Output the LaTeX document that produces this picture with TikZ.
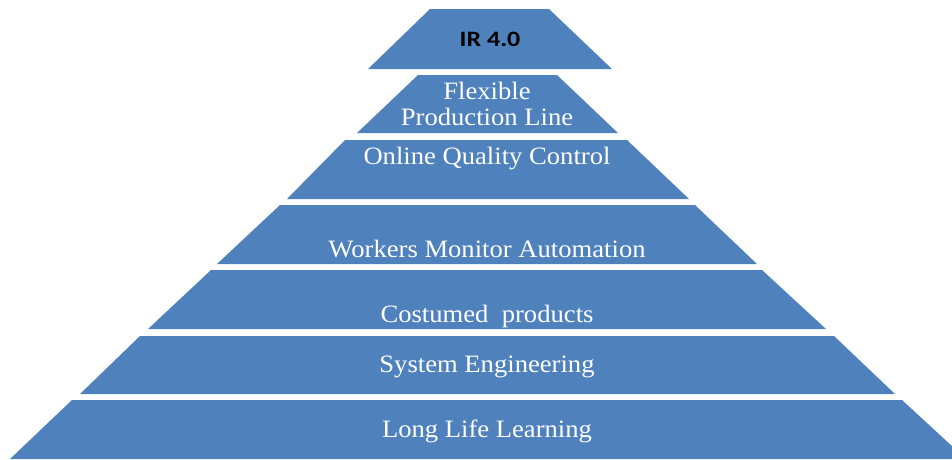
\documentclass[tikz,border=0pt]{standalone}
\usepackage{fontspec}
\setmainfont{Liberation Serif}
\newfontfamily\irfont{Carlito}
\usepackage{graphicx}
\usepackage{tikz}
\usetikzlibrary{positioning}
\usepackage{xcolor}
\definecolor{pyblue}{RGB}{79,129,189}
\tikzstyle{band} = [fill=pyblue]
\tikzstyle{label} = [text=white, anchor=base, inner sep=0pt, font=\fontsize{25}{28}\selectfont]
\newcommand{\wide}[1]{\scalebox{1.065}[1]{#1}}

\begin{document}
\begin{tikzpicture}[x=1pt, y=-1pt]
\useasboundingbox (0,0) rectangle (952,459);
\clip (0,0) rectangle (952,459);

\fill[band] (430,9) -- (549,9) -- (612,69) -- (368,69) -- cycle;
\fill[band] (418,75) -- (557,75) -- (618,133) -- (357,133) -- cycle;
\fill[band] (345,140) -- (627,140) -- (689,199) -- (287,199) -- cycle;
\fill[band] (280,205) -- (695,205) -- (757,264) -- (217,264) -- cycle;
\fill[band] (211,270) -- (762,270) -- (826,329) -- (148,329) -- cycle;
\fill[band] (140,336) -- (834,336) -- (895,394) -- (80,394) -- cycle;
\fill[band] (72,400) -- (902,400) -- (966,459) -- (10,459) -- cycle;

\node[anchor=base, inner sep=0pt, font=\irfont\bfseries\fontsize{22}{24}\selectfont] (ir) at (490,46) {\scalebox{1.18}[1]{IR 4.0}};
\node[label] (flex) at (487,99) {\wide{Flexible}};
\node[label] (prod) at (487,125) {\wide{Production Line}};
\node[label] (online) at (487,164) {\wide{Online Quality Control}};
\node[label] (workers) at (487,257) {\wide{Workers Monitor Automation}};
\node[label] (custom) at (487,322) {\wide{Costumed~ products}};
\node[label] (system) at (487,372) {\wide{System Engineering}};
\node[label] (lifelong) at (487,437) {\wide{Long Life Learning}};
\end{tikzpicture}
\end{document}
